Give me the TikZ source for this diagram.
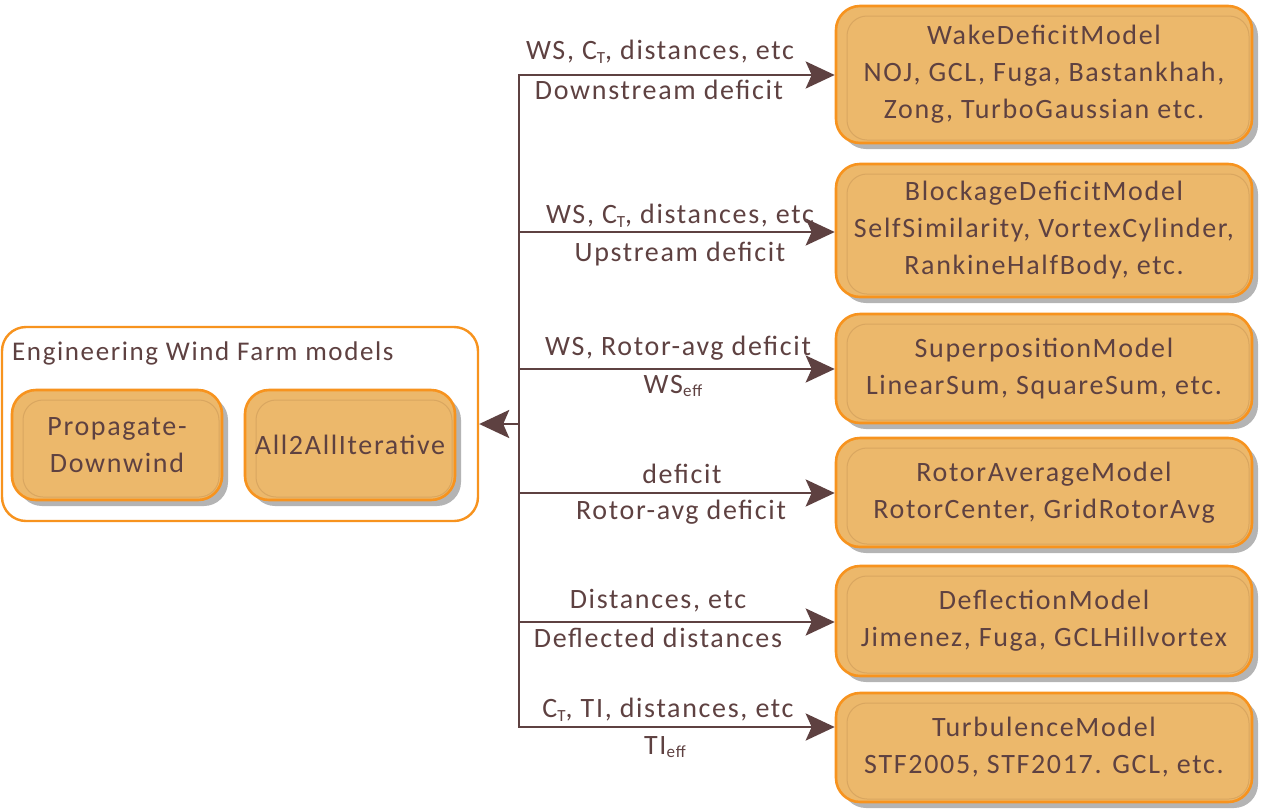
\documentclass[tikz,border=0pt]{standalone}
\usepackage{fontspec}
\setmainfont{Carlito}[LetterSpace=6]
\usetikzlibrary{arrows.meta,shadows}
\definecolor{ink}{HTML}{5E4141}
\definecolor{rim}{HTML}{F7931E}
\definecolor{boxfill}{HTML}{ECB86B}
\definecolor{bevel}{HTML}{D9A660}
\definecolor{shade}{HTML}{B4B4B4}
\newcommand\lowsub[1]{\raisebox{-0.25ex}{\fontsize{17}{17}\selectfont #1}}
\tikzset{
  model/.style={draw=rim, line width=2.6pt, fill=boxfill, rounded corners=24pt,
    text=ink, align=center, font=\fontsize{28}{37}\selectfont,
    drop shadow={shadow xshift=6pt, shadow yshift=-6pt, fill=shade, opacity=1},
    path picture={
      \draw[bevel, line width=1pt, rounded corners=20pt]
        ([xshift=11pt,yshift=-10pt]path picture bounding box.north west)
        rectangle ([xshift=-3pt,yshift=3pt]path picture bounding box.south east);
    }},
  group/.style={draw=rim, line width=2.4pt, fill=white, rounded corners=24pt},
  flow/.style={draw=ink, line width=2.8pt,
    -{Stealth[length=29pt, width=27pt, inset=6pt]}},
  tag/.style={text=ink, font=\fontsize{28}{30}\selectfont, inner sep=0pt},
}
\begin{document}
\begin{tikzpicture}[x=1pt, y=-1pt]
\useasboundingbox (0,0) rectangle (1266,809);

% model blocks on the right
\node[model, minimum width=416pt, minimum height=137pt] (b1) at (1044,74.5)
  {WakeDeficitModel\\NOJ, GCL, Fuga, Bastankhah,\\Zong, TurboGaussian etc.};
\node[model, minimum width=416pt, minimum height=133pt] (b2) at (1044,230.5)
  {BlockageDeficitModel\\SelfSimilarity, VortexCylinder,\\RankineHalfBody, etc.};
\node[model, minimum width=416pt, minimum height=109pt] (b3) at (1044,368.5)
  {SuperpositionModel\\LinearSum, SquareSum, etc.};
\node[model, minimum width=416pt, minimum height=109pt] (b4) at (1044,492.5)
  {RotorAverageModel\\RotorCenter, GridRotorAvg};
\node[model, minimum width=416pt, minimum height=110pt] (b5) at (1044,621)
  {DeflectionModel\\Jimenez, Fuga, GCLHillvortex};
\node[model, minimum width=416pt, minimum height=109pt] (b6) at (1044,747.5)
  {TurbulenceModel\\STF2005, STF2017. GCL, etc.};

% engineering wind farm model group
\node[group, minimum width=476pt, minimum height=194pt] (efm) at (240,424) {};
\node[tag, anchor=west, font=\fontsize{27}{30}\selectfont] (efmtitle) at (12,353)
  {Engineering Wind Farm models};
\node[model, minimum width=210pt, minimum height=110pt] (pd) at (117,445)
  {Propagate-\\Downwind};
\node[model, minimum width=210pt, minimum height=110pt] (aa) at (350,445)
  {All2AllIterative};

% distribution bus
\coordinate (j1) at (519,75);
\coordinate (j2) at (519,232);
\coordinate (j3) at (519,369);
\coordinate (j4) at (519,493);
\coordinate (j5) at (519,622);
\coordinate (j6) at (519,727);
\coordinate (jm) at (519,424);
\draw[draw=ink, line width=2.8pt, line cap=rect] (j1) -- (j6);
\draw[flow] (j1) -- (j1 -| b1.west);
\draw[flow] (j2) -- (j2 -| b2.west);
\draw[flow] (j3) -- (j3 -| b3.west);
\draw[flow] (j4) -- (j4 -| b4.west);
\draw[flow] (j5) -- (j5 -| b5.west);
\draw[flow] (j6) -- (j6 -| b6.west);
\draw[flow, -{Stealth[length=30pt, width=28pt, inset=6pt]}] (jm) -- (efm.east);

% data exchanged along each connection
\node[tag] (t1a) at (660,52) {WS, C\lowsub{T}, distances, etc};
\node[tag] (t1b) at (659,90) {Downstream deficit};
\node[tag] (t2a) at (680,216) {WS, C\lowsub{T}, distances, etc};
\node[tag] (t2b) at (680,254) {Upstream deficit};
\node[tag] (t3a) at (678,348) {WS, Rotor-avg deficit};
\node[tag] (t3b) at (673,386) {WS\lowsub{eff}};
\node[tag] (t4a) at (682,474) {deficit};
\node[tag] (t4b) at (681,512) {Rotor-avg deficit};
\node[tag] (t5a) at (658,601) {Distances, etc};
\node[tag] (t5b) at (658,638) {Deflected distances};
\node[tag] (t6a) at (668,710) {C\lowsub{T}, TI, distances, etc};
\node[tag] (t6b) at (665,747) {TI\lowsub{eff}};
\end{tikzpicture}
\end{document}
